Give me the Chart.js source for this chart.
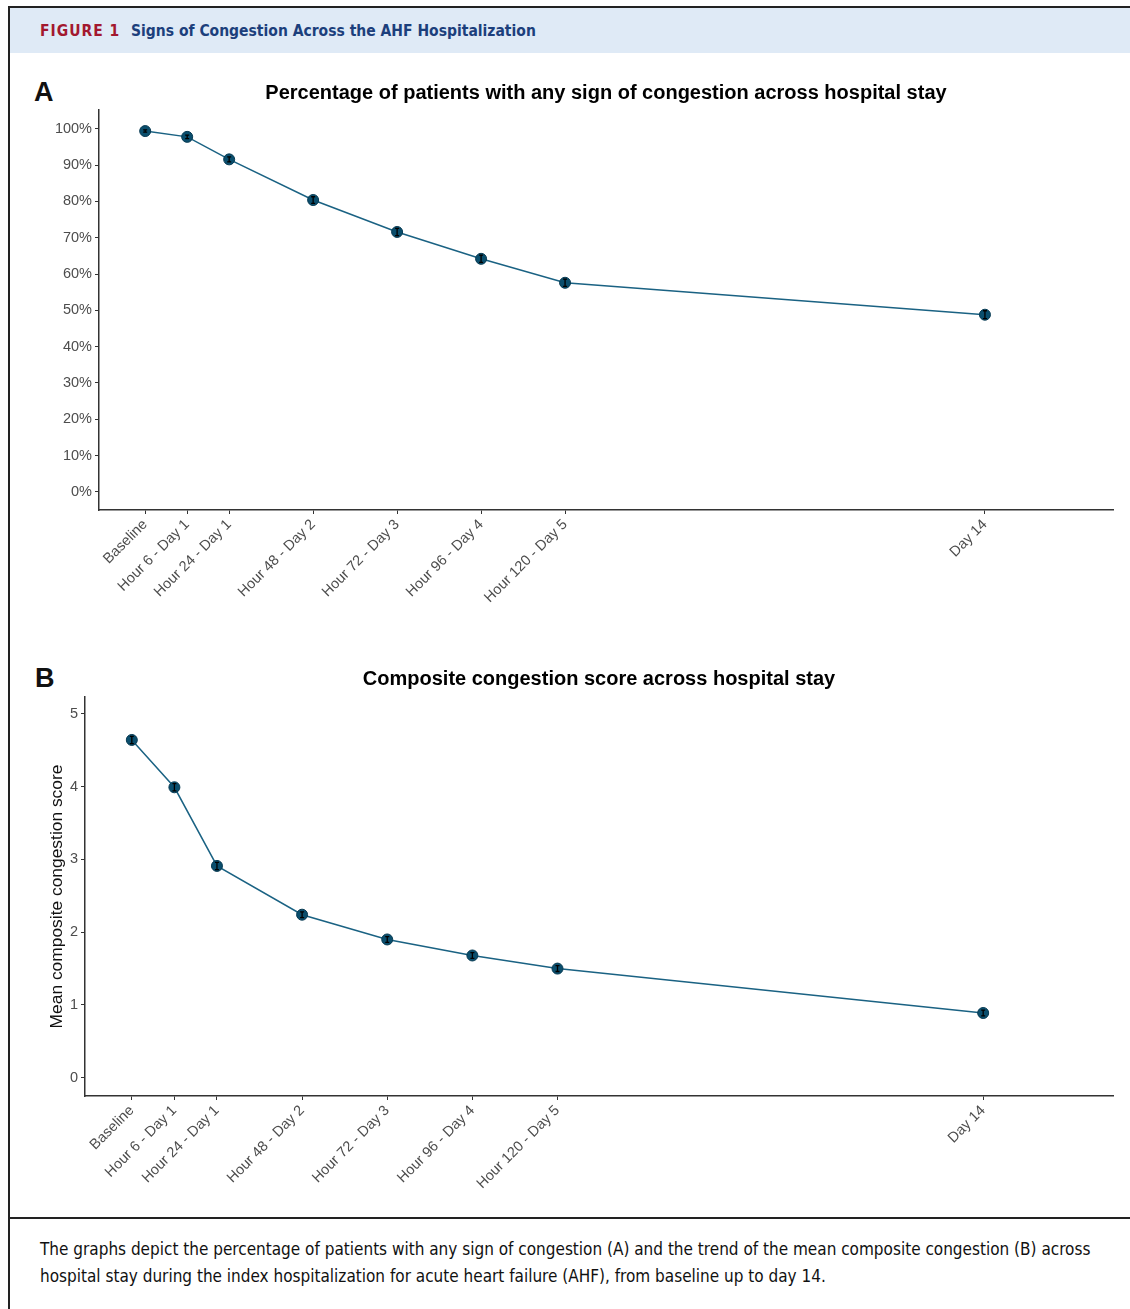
<!DOCTYPE html>
<html>
<head>
<meta charset="utf-8">
<script src="https://cdn.jsdelivr.net/npm/chart.js@4.4.1/dist/chart.umd.min.js"></script>
<style>
  html, body { margin: 0; padding: 0; background: #fff; }
  body { width: 1130px; height: 1309px; position: relative; overflow: hidden; font-family: "Liberation Sans", Arial, sans-serif; }
  #frame { position: absolute; left: 8px; top: 6px; width: 1130px; height: 1310px; border-left: 2px solid #222; border-top: 2px solid #222; }
  #header { position: absolute; left: 10px; top: 8px; width: 1120px; height: 45px; background: #dfeaf6; }
  #header span { position: absolute; top: 14px; font-family: "Liberation Sans Narrow", "DejaVu Sans Condensed", sans-serif; font-weight: bold; font-size: 15.5px; }
  #fig { left: 30px; color: #a3182f; letter-spacing: 1px; }
  #figtitle { left: 121px; color: #1c3f7c; }
  .panel { position: absolute; font-weight: bold; font-size: 27px; color: #111; }
  canvas { position: absolute; }
  #rule { position: absolute; left: 10px; top: 1217px; width: 1120px; height: 2px; background: #222; }
  #caption { position: absolute; left: 40px; top: 1236px; width: 1080px; font-family: "Liberation Sans Narrow", "DejaVu Sans Condensed", sans-serif; font-size: 17px; line-height: 27px; color: #111; }
</style>
</head>
<body>
<div id="frame"></div>
<div id="header"><span id="fig">FIGURE 1</span><span id="figtitle">Signs of Congestion Across the AHF Hospitalization</span></div>
<div class="panel" style="left:34px; top:77px;">A</div>
<div class="panel" style="left:35px; top:663px;">B</div>
<canvas id="chartA" style="left:10px; top:56px;"></canvas>
<canvas id="chartB" style="left:10px; top:630px;"></canvas>
<div id="rule"></div>
<div id="caption">The graphs depict the percentage of patients with any sign of congestion (A) and the trend of the mean composite congestion (B) across hospital stay during the index hospitalization for acute heart failure (AHF), from baseline up to day 14.</div>

<script>
// time points and their positions on the x axis
const timeLabels = ["Baseline", "Hour 6 - Day 1", "Hour 24 - Day 1", "Hour 48 - Day 2",
  "Hour 72 - Day 3", "Hour 96 - Day 4", "Hour 120 - Day 5", "Day 14"];
const timePos = [0, 1, 2, 4, 6, 8, 10, 20];

// panel A: % of patients with any sign of congestion
const pctCongested = [99.4, 97.8, 91.6, 80.4, 71.6, 64.2, 57.6, 48.8];
const pctErr = [0.3, 0.5, 0.7, 0.9, 1.0, 1.0, 1.0, 1.1];
const pctTicks = [0, 10, 20, 30, 40, 50, 60, 70, 80, 90, 100];

// panel B: mean composite congestion score
const meanScore = [4.64, 3.99, 2.91, 2.24, 1.90, 1.68, 1.50, 0.89];
const scoreErr = [0.05, 0.05, 0.05, 0.04, 0.04, 0.04, 0.04, 0.04];
const scoreTicks = [0, 1, 2, 3, 4, 5];

const lineColor = "#1a6283";
const pointColor = "#0a4e6d";
const axisColor = "#333";
const tickColor = "#4d4d4d";

// small black error bars drawn inside the markers
const errorBars = {
  id: "errorBars",
  afterDatasetsDraw(chart, args, opts) {
    const ctx = chart.ctx;
    const xs = chart.scales.x, ys = chart.scales.y;
    ctx.save();
    ctx.strokeStyle = "#000";
    ctx.lineWidth = 1.3;
    opts.values.forEach((v, i) => {
      const x = xs.getPixelForValue(timePos[i]);
      const y1 = ys.getPixelForValue(v - opts.err[i]);
      const y2 = ys.getPixelForValue(v + opts.err[i]);
      ctx.beginPath();
      ctx.moveTo(x, y1); ctx.lineTo(x, y2);
      ctx.moveTo(x - 2, y1); ctx.lineTo(x + 2, y1);
      ctx.moveTo(x - 2, y2); ctx.lineTo(x + 2, y2);
      ctx.stroke();
    });
    ctx.restore();
  }
};

function makeChart(id, values, err, ticks, yMin, yMax, cfg) {
  const canvas = document.getElementById(id);
  canvas.width = 1120;
  canvas.height = 580;
  return new Chart(canvas, {
    type: "line",
    data: {
      datasets: [{
        data: values.map((v, i) => ({ x: timePos[i], y: v })),
        borderColor: lineColor,
        borderWidth: 1.5,
        pointRadius: 5.5,
        pointBackgroundColor: pointColor,
        pointBorderColor: "#073a52",
        pointBorderWidth: 1,
        tension: 0
      }]
    },
    options: {
      responsive: false,
      animation: false,
      layout: { padding: { left: 0, right: 17, top: 0, bottom: 0 } },
      plugins: {
        legend: { display: false },
        tooltip: { enabled: false },
        title: {
          display: true,
          fullSize: false,
          text: cfg.title,
          color: "#000",
          font: { family: "Liberation Sans, Arial", size: 20, weight: "bold" },
          padding: { top: cfg.titleTop, bottom: cfg.titleBottom },
          align: "center"
        },
        errorBars: { values: values, err: err }
      },
      scales: {
        x: {
          type: "linear",
          min: -1.1,
          max: 23.05,
          afterBuildTicks: s => { s.ticks = timePos.map(v => ({ value: v })); },
          afterFit: s => { s.height = cfg.xHeight; },
          ticks: {
            autoSkip: false,
            maxRotation: 45,
            minRotation: 45,
            padding: 2,
            color: tickColor,
            font: { family: "Liberation Sans, Arial", size: 14.5 },
            callback: (v) => timeLabels[timePos.indexOf(v)]
          },
          grid: { drawOnChartArea: false, drawTicks: true, tickLength: 4, color: axisColor, lineWidth: 1 },
          border: { display: true, color: axisColor, width: 1.5 }
        },
        y: {
          min: yMin,
          max: yMax,
          afterBuildTicks: s => { s.ticks = ticks.map(v => ({ value: v })); },
          afterFit: s => { s.width = cfg.yWidth; },
          ticks: {
            padding: 3,
            color: tickColor,
            font: { family: "Liberation Sans, Arial", size: 14.5 },
            callback: cfg.yFormat
          },
          title: cfg.yTitle ? {
            display: true,
            text: cfg.yTitle,
            color: "#111",
            font: { family: "Liberation Sans, Arial", size: 17.4 },
            padding: { top: cfg.yTitlePad, bottom: 0 }
          } : { display: false },
          grid: { drawOnChartArea: false, drawTicks: true, tickLength: 4, color: axisColor, lineWidth: 1 },
          border: { display: true, color: axisColor, width: 1.5 }
        }
      }
    },
    plugins: [errorBars]
  });
}

makeChart("chartA", pctCongested, pctErr, pctTicks, -5, 105.2, {
  title: "Percentage of patients with any sign of congestion across hospital stay",
  titleTop: 25, titleBottom: 5,
  xHeight: 126, yWidth: 89,
  yFormat: v => v + "%"
});

makeChart("chartB", meanScore, scoreErr, scoreTicks, -0.25, 5.23, {
  title: "Composite congestion score across hospital stay",
  titleTop: 37, titleBottom: 6,
  xHeight: 114, yWidth: 75,
  yFormat: v => v,
  yTitle: "Mean composite congestion score",
  yTitlePad: 37
});
</script>
</body>
</html>
